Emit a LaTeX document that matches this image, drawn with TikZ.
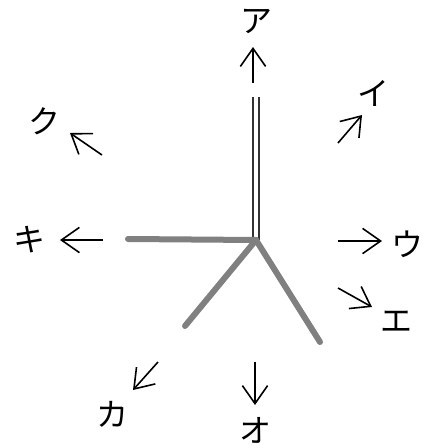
\documentclass[tikz,border=0pt]{standalone}
\usepackage{fontspec}
\newfontfamily\jpfont{Noto Sans CJK JP}
\usetikzlibrary{arrows.meta, positioning}
\tikzset{
  kana/.style={font=\jpfont\fontsize{32}{32}\selectfont, inner sep=0pt},
  dirarrow/.style={-{Straight Barb[angle=70:22pt, line width=1.6pt]}, line width=1.6pt},
  bar/.style={draw=gray, line width=6pt, line cap=round},
  pole/.style={draw=black!80, line width=1.8pt, double=white, double distance=4pt},
}

\begin{document}
\begin{tikzpicture}[x=1pt, y=-1pt]
  \useasboundingbox (0,0) rectangle (424,448);

  % --- Stand ---
  \coordinate (hub) at (256,240);
  \coordinate (poleTop) at (256,97);
  \coordinate (legW) at (128,239);
  \coordinate (legSW) at (185,326);
  \coordinate (legSE) at (320,342);
  \draw[pole] (hub) -- (poleTop);
  \draw[bar] (hub) -- (legW);
  \draw[bar] (hub) -- (legSW);
  \draw[bar] (hub) -- (legSE);

  % --- Labels ---
  \node[kana] (a) at (256,21) {ア};
  \node[kana] (i) at (373,93) {イ};
  \node[kana] (u) at (407,244) {ウ};
  \node[kana] (e) at (396,322) {エ};
  \node[kana] (o) at (255,430) {オ};
  \node[kana] (ka) at (112,414) {カ};
  \node[kana] (ki) at (29,240) {キ};
  \node[kana] (ku) at (44,121) {ク};

  % --- Direction arrows ---
  \coordinate (aS) at (253,83);   \coordinate (aE) at (253,47);
  \coordinate (iS) at (338,143);  \coordinate (iE) at (362,115);
  \coordinate (uS) at (338,241);  \coordinate (uE) at (382,241);
  \coordinate (eS) at (338,288);  \coordinate (eE) at (372,307);
  \coordinate (oS) at (255,362);  \coordinate (oE) at (255,405);
  \coordinate (kaS) at (158,362); \coordinate (kaE) at (133,390);
  \coordinate (kiS) at (103,240); \coordinate (kiE) at (60,240);
  \coordinate (kuS) at (102,155); \coordinate (kuE) at (70,133);
  \foreach \d in {a,i,u,e,o,ka,ki,ku}
    \draw[dirarrow] (\d S) -- (\d E);
\end{tikzpicture}
\end{document}
